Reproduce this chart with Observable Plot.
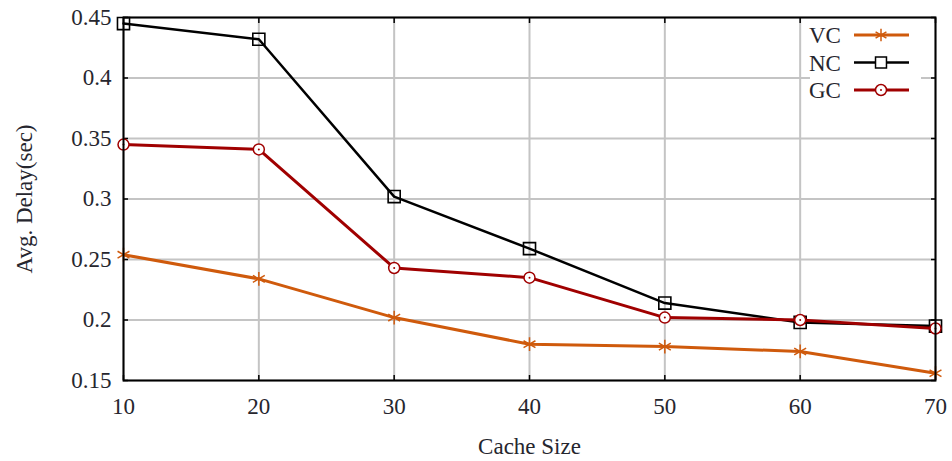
<!DOCTYPE html>
<html>
<head>
<meta charset="utf-8">
<script src="https://cdn.jsdelivr.net/npm/d3@7"></script>
<script src="https://cdn.jsdelivr.net/npm/@observablehq/plot@0.6"></script>
<style>
  html, body { margin: 0; padding: 0; background: #fff; }
  #chart { position: relative; width: 952px; height: 461px; }
</style>
</head>
<body>
<div id="chart"></div>
<script>
const cacheSizes = [10, 20, 30, 40, 50, 60, 70];
const vcDelay = [0.254, 0.234, 0.202, 0.180, 0.178, 0.174, 0.156];
const ncDelay = [0.445, 0.432, 0.302, 0.259, 0.214, 0.198, 0.195];
const gcDelay = [0.345, 0.341, 0.243, 0.235, 0.202, 0.200, 0.193];
const seriesNames = ["VC", "NC", "GC"];
const seriesColors = ["#cf5a0c", "#000000", "#a00000"];
const xTicks = [10, 20, 30, 40, 50, 60, 70];
const yTicks = [0.15, 0.2, 0.25, 0.3, 0.35, 0.4, 0.45];
const yTickLabels = ["0.15", "0.2", "0.25", "0.3", "0.35", "0.4", "0.45"];

const seriesValues = [vcDelay, ncDelay, gcDelay];
const rows = [];
seriesNames.forEach((s, i) => cacheSizes.forEach((c, j) => rows.push({series: s, size: c, delay: seriesValues[i][j]})));
const bySeries = s => rows.filter(r => r.series === s);

const textColor = "#26262e";
const font = "'Liberation Serif', 'DejaVu Serif', serif";
const fs = 23;

const plot = Plot.plot({
  width: 952,
  height: 461,
  marginLeft: 123,
  marginRight: 17,
  marginTop: 17,
  marginBottom: 81,
  style: {fontFamily: font, fontSize: fs + "px", color: textColor, background: "#fff"},
  x: {domain: [10, 70]},
  y: {domain: [0.15, 0.45]},
  marks: [
    Plot.gridX(xTicks, {stroke: "#c4c4c4", strokeOpacity: 1, strokeWidth: 2}),
    Plot.gridY(yTicks, {stroke: "#c4c4c4", strokeOpacity: 1, strokeWidth: 2}),
    Plot.axisX(xTicks, {anchor: "bottom", tickSize: -5, tickPadding: 22, stroke: "#000", strokeWidth: 1.5, fill: textColor, fontSize: fs,
      label: "Cache Size", labelAnchor: "center", labelArrow: "none", labelOffset: 73}),
    Plot.axisX(xTicks, {anchor: "top", tickSize: -5, tickFormat: () => "", stroke: "#000", strokeWidth: 1.5, label: null}),
    Plot.axisY(yTicks, {anchor: "left", tickSize: -5, tickPadding: 17, stroke: "#000", strokeWidth: 1.5, fill: textColor, fontSize: fs,
      tickFormat: d => yTickLabels[yTicks.indexOf(d)],
      label: "Avg. Delay(sec)", labelAnchor: "center", labelArrow: "none", labelOffset: 108}),
    Plot.axisY(yTicks, {anchor: "right", tickSize: -5, tickFormat: () => "", stroke: "#000", strokeWidth: 1.5, label: null}),
    Plot.line(bySeries("VC"), {x: "size", y: "delay", stroke: seriesColors[0], strokeWidth: 3}),
    Plot.dot(bySeries("VC"), {x: "size", y: "delay", symbol: "asterisk", r: 6.5, stroke: seriesColors[0], strokeWidth: 1.5}),
    Plot.line(bySeries("NC"), {x: "size", y: "delay", stroke: seriesColors[1], strokeWidth: 2.5}),
    Plot.dot(bySeries("NC"), {x: "size", y: "delay", symbol: "square", r: 6.8, stroke: seriesColors[1], fill: "none", strokeWidth: 1.6}),
    Plot.line(bySeries("GC"), {x: "size", y: "delay", stroke: seriesColors[2], strokeWidth: 3}),
    Plot.dot(bySeries("GC"), {x: "size", y: "delay", symbol: "circle", r: 5.5, stroke: seriesColors[2], fill: "#fff", strokeWidth: 1.5}),
    Plot.dot(bySeries("GC"), {x: "size", y: "delay", symbol: "circle", r: 1, fill: seriesColors[2]}),
    Plot.frame({stroke: "#000", strokeWidth: 2})
  ]
});

document.getElementById("chart").appendChild(plot);

// Legend inside the frame, top-right
const svg = d3.select(plot);
const frameRight = 952 - 17;
const frameTop = 17;
const lg = svg.append("g").attr("font-family", font).attr("font-size", fs).attr("text-anchor", "start");
lg.append("rect").attr("x", frameRight - 125).attr("y", frameTop + 2).attr("width", 111).attr("height", 86).attr("fill", "#fff");
const symbols = [d3.symbolAsterisk, d3.symbolSquare, d3.symbolCircle];
const symSizes = [110, 120, 95];
seriesNames.forEach((name, i) => {
  const cy = frameTop + 18 + i * 27.5;
  lg.append("text").attr("x", frameRight - 126).attr("y", cy).attr("dy", "0.35em").attr("fill", textColor).text(name);
  lg.append("line").attr("x1", frameRight - 81).attr("x2", frameRight - 26).attr("y1", cy).attr("y2", cy)
    .attr("stroke", seriesColors[i]).attr("stroke-width", i === 1 ? 2.5 : 3);
  lg.append("path").attr("transform", `translate(${frameRight - 54},${cy})`)
    .attr("d", d3.symbol(symbols[i], symSizes[i])())
    .attr("fill", i === 0 ? "none" : "#fff").attr("stroke", seriesColors[i]).attr("stroke-width", 1.5);
  if (i === 2) lg.append("circle").attr("cx", frameRight - 54).attr("cy", cy).attr("r", 1).attr("fill", seriesColors[i]);
});
</script>
</body>
</html>
